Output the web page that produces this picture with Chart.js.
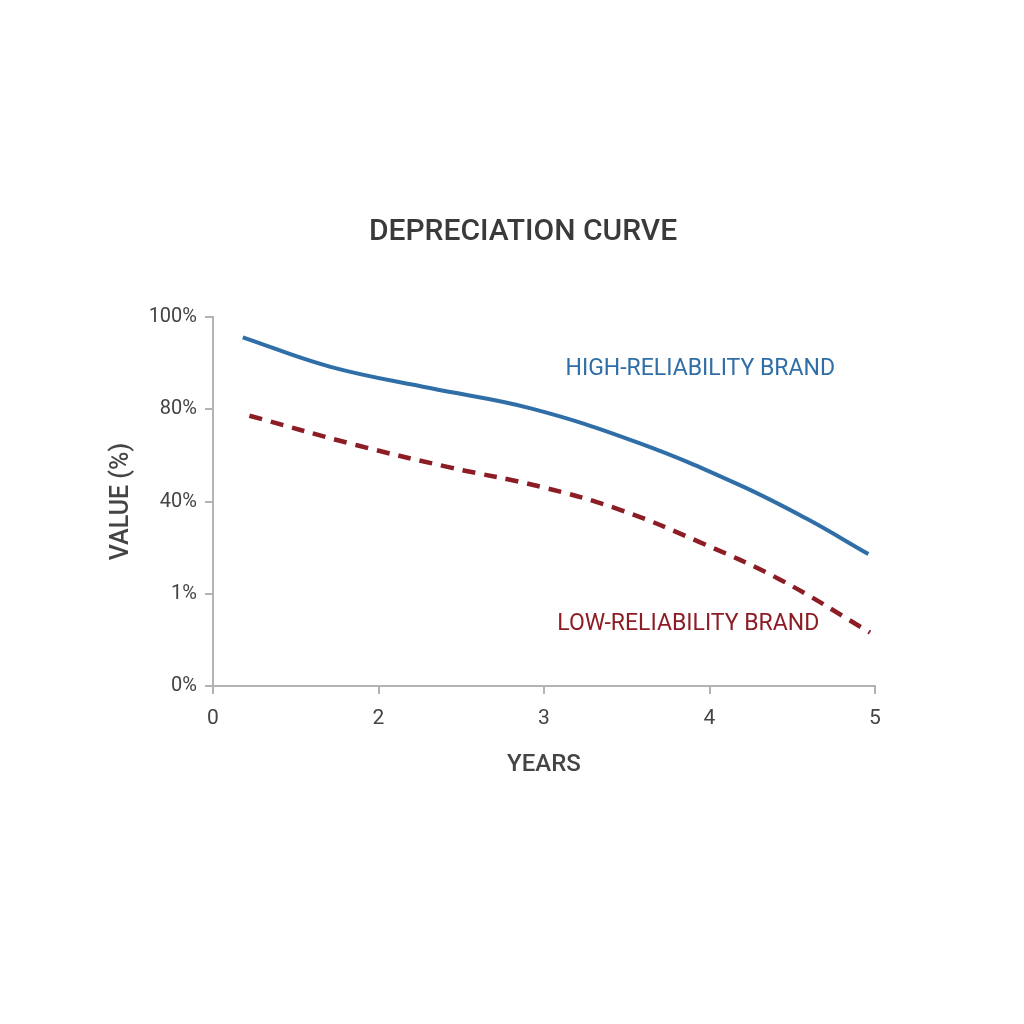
<!DOCTYPE html>
<html>
<head>
<meta charset="utf-8">
<script src="https://cdn.jsdelivr.net/npm/chart.js@4.4.1/dist/chart.umd.min.js"></script>
<style>
  html, body { margin: 0; padding: 0; background: #ffffff; }
  #wrap { width: 1024px; height: 1024px; }
</style>
</head>
<body>
<div id="wrap"><canvas id="c" width="1024" height="1024"></canvas></div>
<script>
// ---- data (x and y expressed in tick-position units of the evenly spaced axes) ----
const xTickLabels = ['0', '2', '3', '4', '5'];
const yTickLabels = ['0%', '1%', '40%', '80%', '100%'];

const highX = [0.18, 0.71, 1.31, 1.92, 2.58, 3.18, 3.58, 3.96];
const highY = [3.78, 3.46, 3.23, 3.01, 2.63, 2.18, 1.82, 1.43];

const lowX = [0.22, 0.87, 1.43, 1.98, 2.46, 2.94, 3.43, 3.97];
const lowY = [2.93, 2.61, 2.37, 2.16, 1.91, 1.56, 1.15, 0.58];

const highLabel = 'HIGH-RELIABILITY BRAND';
const lowLabel = 'LOW-RELIABILITY BRAND';
const chartTitle = 'DEPRECIATION CURVE';
const xTitle = 'YEARS';
const yTitle = 'VALUE (%)';

const BLUE = '#2f6ea6';
const RED = '#8c1d24';
const AXIS = '#b3b3b3';
const TEXT = '#444444';
const FONT = 'Roboto, "Liberation Sans", sans-serif';

function pts(xs, ys) { return xs.map((x, i) => ({ x: x, y: ys[i] })); }

const annotations = {
  id: 'annotations',
  afterDatasetsDraw(chart) {
    const { ctx, scales } = chart;
    ctx.save();
    ctx.textBaseline = 'middle';
    // title
    ctx.font = '500 30px ' + FONT;
    ctx.fillStyle = '#3a3a3a';
    ctx.textAlign = 'center';
    ctx.fillText(chartTitle, 523, 232);
    // series labels
    ctx.font = '400 23px ' + FONT;
    ctx.textAlign = 'left';
    ctx.fillStyle = BLUE;
    ctx.fillText(highLabel, scales.x.getPixelForValue(2.13), scales.y.getPixelForValue(3.43));
    ctx.fillStyle = RED;
    ctx.fillText(lowLabel, scales.x.getPixelForValue(2.08), scales.y.getPixelForValue(0.67));
    ctx.restore();
  }
};

new Chart(document.getElementById('c'), {
  type: 'line',
  data: {
    datasets: [
      {
        label: highLabel,
        data: pts(highX, highY),
        borderColor: BLUE,
        borderWidth: 4,
        pointRadius: 0,
        tension: 0.4,
        fill: false
      },
      {
        label: lowLabel,
        data: pts(lowX, lowY),
        borderColor: RED,
        borderWidth: 4.5,
        borderDash: [13, 9],
        pointRadius: 0,
        tension: 0.4,
        fill: false
      }
    ]
  },
  plugins: [annotations],
  options: {
    responsive: false,
    animation: false,
    layout: { padding: { left: 107, right: 149, top: 317, bottom: 245 } },
    plugins: {
      legend: { display: false },
      tooltip: { enabled: false },
      title: { display: false }
    },
    scales: {
      x: {
        type: 'linear',
        min: 0, max: 4,
        afterFit(s) { s.height = 93; },
        ticks: {
          stepSize: 1,
          color: TEXT,
          padding: 12,
          font: { family: FONT, size: 21 },
          callback: (v) => xTickLabels[v]
        },
        grid: { display: true, drawOnChartArea: false, drawTicks: true, tickLength: 8, color: AXIS, lineWidth: 2 },
        border: { display: true, color: AXIS, width: 2 },
        title: {
          display: true,
          text: xTitle,
          color: TEXT,
          font: { family: FONT, size: 24, weight: '500' },
          padding: { top: 14, bottom: 0 }
        }
      },
      y: {
        type: 'linear',
        min: 0, max: 4,
        afterFit(s) { s.width = 106; },
        ticks: {
          stepSize: 1,
          color: TEXT,
          padding: 8,
          font: { family: FONT, size: 20 },
          callback: (v) => yTickLabels[v]
        },
        grid: { display: true, drawOnChartArea: false, drawTicks: true, tickLength: 8, color: AXIS, lineWidth: 2 },
        border: { display: true, color: AXIS, width: 2 },
        title: {
          display: true,
          text: yTitle,
          color: TEXT,
          font: { family: FONT, size: 25, weight: '500' },
          padding: { top: 0, bottom: 0 }
        }
      }
    }
  }
});
</script>
</body>
</html>
